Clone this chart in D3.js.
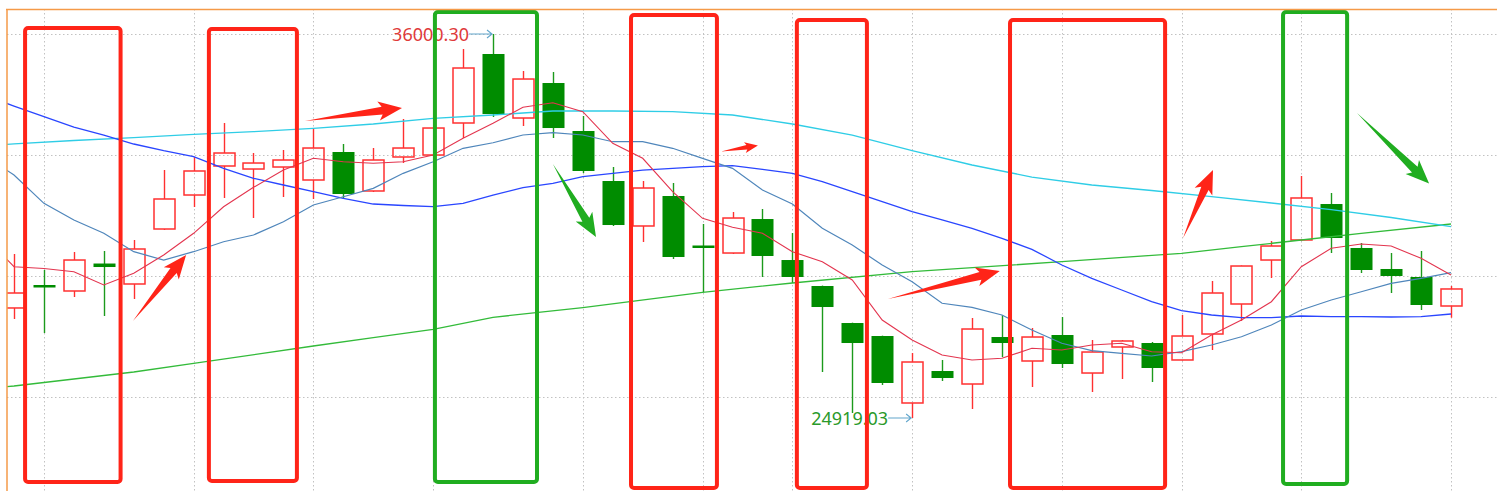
<!DOCTYPE html>
<html>
<head>
<meta charset="utf-8">
<script src="https://cdn.jsdelivr.net/npm/d3@7"></script>
<style>
  body { margin: 0; background: #fff; }
  svg { display: block; }
</style>
</head>
<body>
<script>
var width = 1497;
var height = 498;

var upRed = '#ff3030';
var downGreen = '#008c00';
var markRed = '#ff2418';
var markGreen = '#20ad20';
var frameOrange = '#f59a48';

// daily candles, left to right
var opens  = [28094, 28757, 28584, 29377, 28786, 30373, 31354, 32191, 32104, 32162, 31787, 32595, 31470, 32451, 32508, 33432, 35423, 33576, 34586, 33201, 31758, 30460, 31325, 29897, 29680, 30661, 29478, 28728, 27660, 27285, 25352, 26275, 25900, 27256, 26564, 27314, 26217, 26968, 27083, 26593, 27343, 28209, 29478, 30056, 31094, 29825, 29219, 28988, 28151];
var highs  = [29652, 29190, 29709, 29738, 30056, 32075, 32451, 33432, 32566, 32653, 33259, 32826, 32710, 33547, 33300, 35567, 36000.30, 34932, 34903, 33634, 32162, 31758, 31700, 30517, 30863, 30950, 30257, 28740, 27670, 27295, 26795, 26593, 27805, 27891, 27516, 27833, 27170, 27170, 27112, 27891, 28872, 29320, 30027, 31902, 31412, 29969, 29680, 29738, 28728];
var lows   = [27776, 27372, 28411, 27862, 28353, 30344, 31008, 31268, 30690, 31296, 31239, 31268, 31441, 32277, 32480, 32999, 33605, 33345, 32999, 31989, 30460, 29998, 29507, 28555, 29652, 28988, 28815, 26246, 25063, 25871, 24919.03, 25987, 25179, 26679, 25813, 26362, 25669, 26044, 25958, 26580, 26881, 27720, 28959, 30040, 29680, 29103, 28526, 28036, 27814];
var closes = [28526, 28728, 29478, 29276, 29796, 31239, 32047, 32566, 32277, 32364, 32710, 31383, 32364, 32710, 33287, 35019, 33691, 34701, 33287, 32047, 30488, 31556, 29565, 29868, 30690, 29594, 28988, 28122, 27083, 25929, 26535, 26073, 27487, 27083, 27256, 26477, 26823, 27141, 26362, 27285, 28526, 29305, 29882, 31268, 30113, 29190, 29017, 28180, 28642];

// moving averages (one value per candle)
var ma5  = [29285, 29233, 29141, 28757, 29095, 29623, 30249, 31016, 31576, 32075, 32413, 32315, 32269, 32315, 32508, 32990, 33423, 33885, 34018, 33758, 32846, 32413, 31449, 30682, 30422, 30249, 29718, 29429, 28901, 27747, 27170, 26737, 26593, 26642, 26930, 26881, 27026, 27075, 26832, 26803, 27314, 27747, 28275, 29285, 29816, 29940, 29882, 29527, 29046];
var ma10 = [31931, 31114, 30633, 30249, 29718, 29478, 29718, 30006, 30200, 30584, 31065, 31305, 31547, 31980, 32315, 32702, 32863, 33085, 33152, 33085, 32892, 32892, 32702, 32413, 32124, 31498, 31094, 30393, 29911, 29334, 28852, 28229, 28113, 27891, 27458, 27075, 26861, 26786, 26708, 26832, 27026, 27265, 27603, 28036, 28324, 28563, 28806, 28950, 29112];
var ma20 = [33922, 33614, 33316, 33085, 32826, 32632, 32459, 32124, 31836, 31643, 31449, 31259, 31094, 31051, 31016, 31114, 31354, 31565, 31692, 31882, 31980, 32075, 32124, 32171, 32200, 32096, 31980, 31738, 31449, 31161, 30872, 30633, 30393, 30104, 29787, 29334, 28950, 28613, 28275, 28015, 27891, 27813, 27813, 27862, 27842, 27842, 27833, 27842, 27920];
var ma60Idx = [0, 2, 4, 6, 8, 10, 12, 14, 16, 18, 20, 22, 24, 26, 28, 30, 32, 34, 36, 38, 40, 42, 44, 46, 48];
var ma60    = [32831, 32927, 33010, 33106, 33181, 33279, 33403, 33567, 33663, 33778, 33778, 33758, 33663, 33403, 33085, 32638, 32220, 31873, 31643, 31484, 31305, 31123, 30930, 30705, 30439];
var ma120Idx = [0, 4, 6, 10, 12, 14, 16, 19, 23, 26, 30, 35, 39, 41, 43, 45, 48];
var ma120    = [25842, 26246, 26497, 26997, 27236, 27479, 27825, 28102, 28546, 28815, 29141, 29429, 29672, 29862, 30056, 30249, 30517];

// where each average enters at the left edge of the window
var edgeIdx = -0.25;
var edgeValues = { ma5: 29507, ma10: 32075, ma20: 34000, ma60: 32817, ma120: 25822 };

// grid
var gridIdx = [1, 6, 10, 14, 19, 23, 26, 30, 35, 39, 43, 48];
var gridPrices = [36000.30, 32508, 29016, 25524];

// hand drawn marks (candle index / price units)
var boxFrom   = [0.37, 6.51, 14.06, 20.61, 26.15, 33.27, 42.39];
var boxTo     = [3.56, 9.45, 17.47, 23.48, 28.49, 38.45, 44.53];
var boxTop    = [36173, 36145, 36635, 36549, 36404, 36404, 36635];
var boxBottom = [23072, 23101, 23072, 22899, 22899, 22899, 23015];
var boxTone   = ['r', 'r', 'g', 'r', 'r', 'r', 'g'];

var arrowFrom = [[3.97, 27718], [9.72, 33490], [18.0, 32249], [23.62, 32610], [29.19, 28353], [39.05, 30114], [44.86, 33721]];
var arrowTo   = [[5.75, 29623], [12.96, 33865], [19.44, 30142], [24.85, 32783], [32.93, 29161], [40.05, 32076], [47.27, 31686]];
var arrowTone = ['r', 'r', 'g', 'r', 'r', 'r', 'g'];

var x = d3.scaleLinear().domain([0, opens.length - 1]).range([14, 1451]);
var y = d3.scaleLinear().domain([24919.03, 36000.30]).range([418, 34]);
var bodyW = 21;

var svg = d3.select('body').append('svg')
  .attr('width', width)
  .attr('height', height);

svg.append('defs').append('clipPath').attr('id', 'plot')
  .append('rect').attr('x', 7).attr('y', 9).attr('width', width - 7).attr('height', height - 9);

/// grid
var grid = svg.append('g')
  .attr('stroke', '#c2c2c2')
  .attr('stroke-width', 1)
  .attr('stroke-dasharray', '1.5,2.5');

grid.selectAll('.h').data(gridPrices).enter().append('line')
  .attr('x1', 7).attr('x2', width)
  .attr('y1', function(d) { return Math.round(y(d)) + 0.5; })
  .attr('y2', function(d) { return Math.round(y(d)) + 0.5; });

grid.selectAll('.v').data(gridIdx).enter().append('line')
  .attr('y1', 9).attr('y2', 491)
  .attr('x1', function(d) { return Math.round(x(d)) + 0.5; })
  .attr('x2', function(d) { return Math.round(x(d)) + 0.5; });

var plot = svg.append('g').attr('clip-path', 'url(#plot)');

/// candles
var candles = d3.range(opens.length).map(function(i) {
  return { i: i, o: opens[i], h: highs[i], l: lows[i], c: closes[i], up: closes[i] >= opens[i] };
});

var cg = plot.selectAll('.candle').data(candles).enter().append('g');

cg.each(function(d) {
  var g = d3.select(this);
  var cx = Math.round(x(d.i)) + 0.5;
  var top = y(Math.max(d.o, d.c));
  var bot = y(Math.min(d.o, d.c));
  if (d.up) {
    g.append('line').attr('x1', cx).attr('x2', cx).attr('y1', y(d.h)).attr('y2', top)
      .attr('stroke', upRed).attr('stroke-width', 1.4);
    g.append('line').attr('x1', cx).attr('x2', cx).attr('y1', bot).attr('y2', y(d.l))
      .attr('stroke', upRed).attr('stroke-width', 1.4);
    g.append('rect')
      .attr('x', cx - bodyW / 2).attr('y', top)
      .attr('width', bodyW).attr('height', Math.max(1, bot - top))
      .attr('fill', 'none').attr('stroke', upRed).attr('stroke-width', 1.5);
  } else {
    g.append('line').attr('x1', cx).attr('x2', cx).attr('y1', y(d.h)).attr('y2', y(d.l))
      .attr('stroke', '#1c9a1c').attr('stroke-width', 1.4);
    g.append('rect')
      .attr('x', cx - bodyW / 2 - 0.5).attr('y', top)
      .attr('width', bodyW + 1).attr('height', Math.max(2.5, bot - top))
      .attr('fill', downGreen);
  }
});

/// moving averages
var linePair = d3.line()
  .x(function(d) { return x(d[0]); })
  .y(function(d) { return y(d[1]); });

function withEdge(idx, vals, edge) {
  return [[edgeIdx, edge]].concat(d3.zip(idx, vals));
}

var allIdx = d3.range(opens.length);
var maLines = [
  { pts: withEdge(ma120Idx, ma120, edgeValues.ma120), color: '#33bb3a', w: 1.3 },
  { pts: withEdge(ma60Idx, ma60, edgeValues.ma60), color: '#2fcde6', w: 1.3 },
  { pts: withEdge(allIdx, ma20, edgeValues.ma20), color: '#2a46ff', w: 1.3 },
  { pts: withEdge(allIdx, ma10, edgeValues.ma10), color: '#4f86bb', w: 1.2 },
  { pts: withEdge(allIdx, ma5, edgeValues.ma5), color: '#e3354f', w: 1.1 }
];

plot.selectAll('.ma').data(maLines).enter().append('path')
  .attr('d', function(d) { return linePair(d.pts); })
  .attr('fill', 'none')
  .attr('stroke', function(d) { return d.color; })
  .attr('stroke-width', function(d) { return d.w; });

/// high / low labels
var hiIdx = d3.maxIndex(highs);
var loIdx = d3.minIndex(lows);
var fmt = d3.format('.2f');

function extremeLabel(idx, val, color) {
  var px = x(idx);
  var py = y(val);
  svg.append('text')
    .attr('x', px - 24).attr('y', py + 7)
    .attr('text-anchor', 'end')
    .attr('font-family', '"Microsoft YaHei", "Noto Sans", sans-serif')
    .attr('font-size', '18px')
    .attr('fill', color)
    .text(fmt(val));
  svg.append('path')
    .attr('d', 'M' + (px - 24) + ',' + py + 'H' + (px - 1) + 'M' + (px - 6) + ',' + (py - 4) + 'L' + (px - 1) + ',' + py + 'L' + (px - 6) + ',' + (py + 4))
    .attr('fill', 'none').attr('stroke', '#62a6cc').attr('stroke-width', 1.1);
}

extremeLabel(hiIdx, highs[hiIdx], '#e03a3a');
extremeLabel(loIdx, lows[loIdx], '#2a9a2a');

/// boxes
svg.selectAll('.box').data(boxFrom).enter().append('rect')
  .attr('x', function(d) { return x(d); })
  .attr('y', function(d, i) { return y(boxTop[i]); })
  .attr('width', function(d, i) { return x(boxTo[i]) - x(d); })
  .attr('height', function(d, i) { return y(boxBottom[i]) - y(boxTop[i]); })
  .attr('rx', 3)
  .attr('fill', 'none')
  .attr('stroke', function(d, i) { return boxTone[i] === 'r' ? markRed : markGreen; })
  .attr('stroke-width', 4);

/// arrows
function arrowPath(a, b) {
  var x0 = x(a[0]), y0 = y(a[1]), x1 = x(b[0]), y1 = y(b[1]);
  var dx = x1 - x0, dy = y1 - y0;
  var len = Math.sqrt(dx * dx + dy * dy);
  var ux = dx / len, uy = dy / len, nx = -uy, ny = ux;
  var hl = Math.min(20, len * 0.3);
  var bw = hl * 0.48, sw = hl * 0.2, bk = hl * 0.18;
  function p(along, side) {
    return [x0 + ux * along + nx * side, y0 + uy * along + ny * side];
  }
  var pts = [p(0, 0), p(len - hl, sw), p(len - hl - bk, bw), p(len, 0), p(len - hl - bk, -bw), p(len - hl, -sw)];
  return 'M' + pts.map(function(q) { return q[0].toFixed(1) + ',' + q[1].toFixed(1); }).join('L') + 'Z';
}

svg.selectAll('.arrow').data(arrowFrom).enter().append('path')
  .attr('d', function(d, i) { return arrowPath(d, arrowTo[i]); })
  .attr('fill', function(d, i) { return arrowTone[i] === 'r' ? markRed : markGreen; });

/// frame
svg.append('line').attr('x1', 6).attr('x2', width).attr('y1', 9.5).attr('y2', 9.5)
  .attr('stroke', frameOrange).attr('stroke-width', 1.5);
svg.append('line').attr('x1', 7).attr('x2', 7).attr('y1', 9).attr('y2', 491)
  .attr('stroke', frameOrange).attr('stroke-width', 1.5);
</script>
</body>
</html>
